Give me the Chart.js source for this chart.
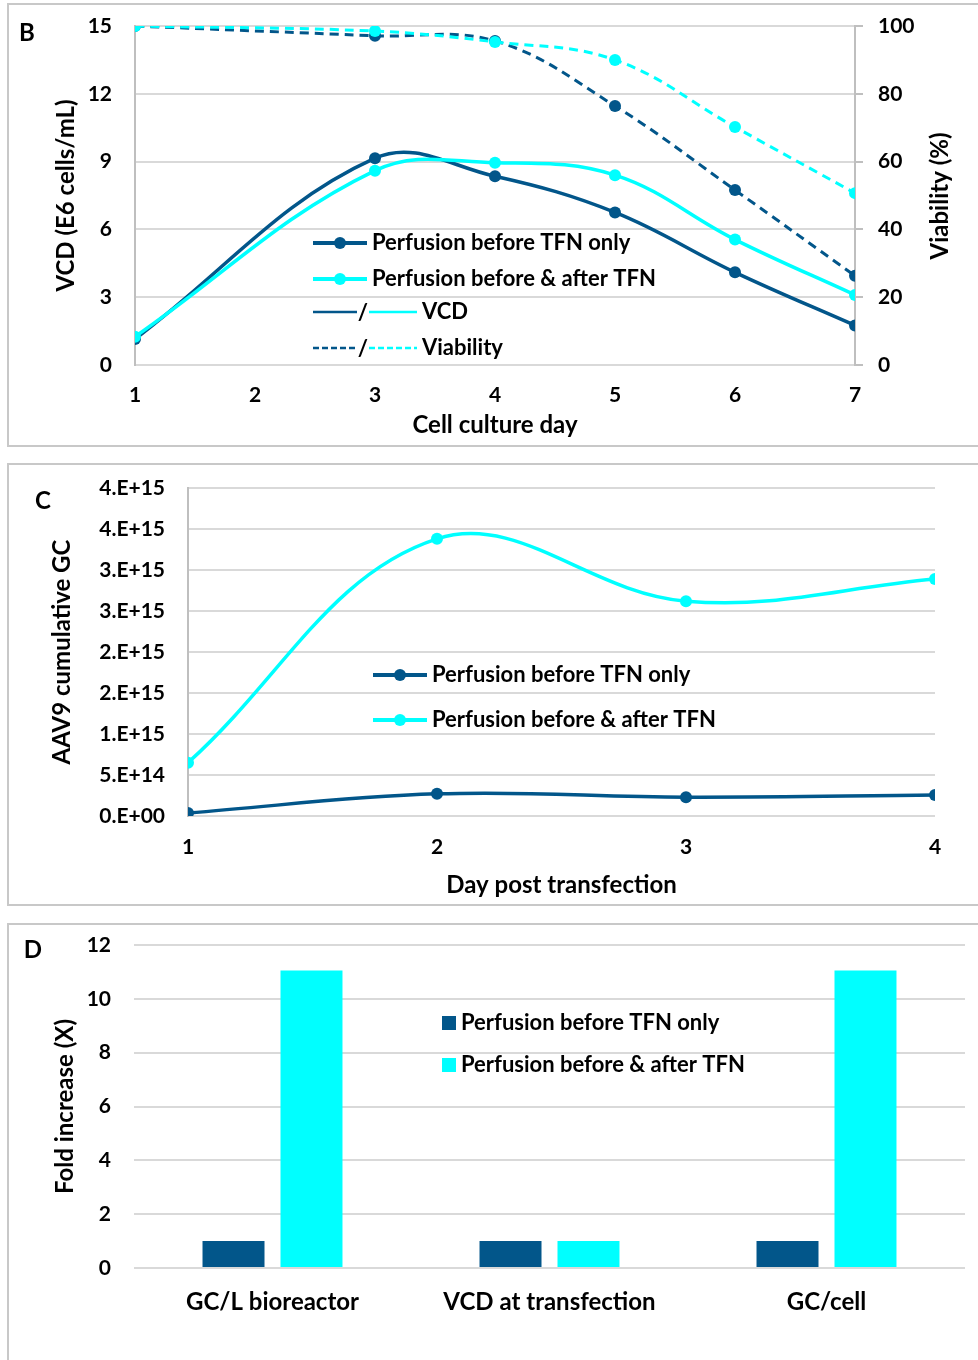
<!DOCTYPE html>
<html>
<head>
<meta charset="utf-8">
<script src="https://cdn.jsdelivr.net/npm/chart.js@4/dist/chart.umd.min.js"></script>
<style>
  body { margin: 0; background: #fff; width: 978px; height: 1360px; position: relative; overflow: hidden; font-family: Lato, "Open Sans", sans-serif; }
  .frame { position: absolute; border: 2px solid #c8c8c8; box-sizing: border-box; }
  .tag { position: absolute; font-weight: bold; font-size: 24px; color: #000; transform: translate(-50%, -50%); }
  canvas { position: absolute; left: 0; }
</style>
</head>
<body>
<div class="frame" style="left:7px;top:3px;width:990px;height:444px"></div>
<div class="frame" style="left:7px;top:463px;width:990px;height:443px"></div>
<div class="frame" style="left:7px;top:923px;width:990px;height:460px"></div>
<canvas id="chartB" width="978" height="460" style="top:-10px"></canvas>
<canvas id="chartC" width="978" height="458" style="top:452px"></canvas>
<canvas id="chartD" width="978" height="451" style="top:909px"></canvas>
<div class="tag" style="left:27px;top:31px">B</div>
<div class="tag" style="left:43px;top:499px">C</div>
<div class="tag" style="left:33px;top:948px">D</div>
<script>
// --- data ---
const dayB = [1, 3, 4, 5, 6, 7];
const vcdTfnOnly = [1.15, 9.15, 8.35, 6.75, 4.1, 1.75];
const vcdBeforeAfter = [1.25, 8.6, 8.95, 8.4, 5.55, 3.1];
const viaTfnOnly = [100, 97.1, 95.6, 76.4, 51.6, 26.3];
const viaBeforeAfter = [100, 98.5, 95.3, 90, 70.2, 50.7];

const dayC = [1, 2, 3, 4];
const gcTfnOnly = [0.037e15, 0.27e15, 0.23e15, 0.255e15];
const gcBeforeAfter = [0.65e15, 3.38e15, 2.62e15, 2.89e15];
const gcTickLabels = ['0.E+00', '5.E+14', '1.E+15', '2.E+15', '2.E+15', '3.E+15', '3.E+15', '4.E+15', '4.E+15'];

const foldCats = ['GC/L bioreactor', 'VCD at transfection', 'GC/cell'];
const foldTfnOnly = [1, 1, 1];
const foldBeforeAfter = [11.05, 1, 11.05];

const seriesNames = ['Perfusion before TFN only', 'Perfusion before & after TFN'];

// --- style ---
const DARK = '#02568A';
const CYAN = '#00FFFF';
const GRID = '#d9d9d9';
const AXIS = '#bfbfbf';
const FONT = 'Lato, "Open Sans", sans-serif';

Chart.defaults.font.family = FONT;
Chart.defaults.font.weight = 'bold';
Chart.defaults.color = '#000';
Chart.defaults.animation = false;

const pts = (xs, ys) => xs.map((x, i) => ({ x: x, y: ys[i] }));
const tickFont = { size: 21, weight: 'bold' };
const titleFont = { size: 24, weight: 'bold' };
const legendFont = 'bold 22px ' + FONT;

function lineSet(label, color, xs, ys, axis, dashed) {
    return {
        label: label,
        data: pts(xs, ys),
        yAxisID: axis,
        borderColor: color,
        backgroundColor: color,
        borderWidth: dashed ? 3 : 3.5,
        borderDash: dashed ? [9, 6] : [],
        pointRadius: 6,
        pointBorderWidth: 0,
        tension: 0.38,
        fill: false
    };
}

// legend row: line with dot + label
function legendLine(ctx, x, y, color, text) {
    ctx.save();
    ctx.strokeStyle = color;
    ctx.lineWidth = 4;
    ctx.beginPath(); ctx.moveTo(x, y); ctx.lineTo(x + 54, y); ctx.stroke();
    ctx.fillStyle = color;
    ctx.beginPath(); ctx.arc(x + 27, y, 6, 0, Math.PI * 2); ctx.fill();
    ctx.fillStyle = '#000';
    ctx.font = legendFont;
    ctx.textBaseline = 'middle';
    ctx.fillText(text, x + 59, y);
    ctx.restore();
}

// legend row: "dark/cyan" line style key
function legendStyle(ctx, x, y, dashed, text) {
    ctx.save();
    ctx.lineWidth = 2.5;
    ctx.setLineDash(dashed ? [6, 3] : []);
    ctx.strokeStyle = DARK;
    ctx.beginPath(); ctx.moveTo(x, y); ctx.lineTo(x + 44, y); ctx.stroke();
    ctx.strokeStyle = CYAN;
    ctx.beginPath(); ctx.moveTo(x + 56, y); ctx.lineTo(x + 104, y); ctx.stroke();
    ctx.fillStyle = '#000';
    ctx.font = legendFont;
    ctx.textBaseline = 'middle';
    ctx.textAlign = 'center';
    ctx.fillText('/', x + 50, y + 1);
    ctx.textAlign = 'left';
    ctx.fillText(text, x + 109, y);
    ctx.restore();
}

// --- B: VCD and viability ---
new Chart(document.getElementById('chartB'), {
    type: 'line',
    data: {
        datasets: [
            lineSet(seriesNames[1], CYAN, dayB, viaBeforeAfter, 'y1', true),
            lineSet(seriesNames[0], DARK, dayB, viaTfnOnly, 'y1', true),
            lineSet(seriesNames[1], CYAN, dayB, vcdBeforeAfter, 'y', false),
            lineSet(seriesNames[0], DARK, dayB, vcdTfnOnly, 'y', false)
        ]
    },
    options: {
        responsive: false,
        layout: { padding: { top: 36, left: 0, right: 0, bottom: 0 } },
        plugins: { legend: { display: false }, tooltip: { enabled: false } },
        scales: {
            x: {
                type: 'linear', min: 1, max: 7,
                ticks: { stepSize: 1, font: tickFont, padding: 10 },
                grid: { display: false },
                border: { display: false },
                title: { display: true, text: 'Cell culture day', font: titleFont, padding: { top: 0, bottom: 10 } },
                afterFit: s => { s.height = 85; }
            },
            y: {
                position: 'left', min: 0, max: 15,
                ticks: { stepSize: 3, font: tickFont, padding: 23 },
                grid: { color: GRID, lineWidth: 2, drawTicks: false },
                border: { display: true, color: AXIS, width: 2 },
                title: { display: true, text: 'VCD (E6 cells/mL)', font: titleFont, padding: { top: 52, bottom: 0 } },
                afterFit: s => { s.width = 135; }
            },
            y1: {
                position: 'right', min: 0, max: 100,
                ticks: { stepSize: 20, font: tickFont, padding: 15 },
                grid: { drawOnChartArea: false, drawTicks: true, tickLength: 8, color: AXIS, lineWidth: 2 },
                border: { display: true, color: AXIS, width: 2 },
                afterFit: s => { s.width = 123; }
            }
        }
    },
    plugins: [{
        id: 'legendB',
        afterDraw(chart) {
            const ctx = chart.ctx;
            const dy = 10; // canvas sits 10px above the page top
            legendLine(ctx, 313, 243 + dy, DARK, seriesNames[0]);
            legendLine(ctx, 313, 279 + dy, CYAN, seriesNames[1]);
            legendStyle(ctx, 313, 312 + dy, false, 'VCD');
            legendStyle(ctx, 313, 348 + dy, true, 'Viability');
            // right axis title reads bottom-to-top
            ctx.save();
            ctx.translate(940, 196 + dy);
            ctx.rotate(-Math.PI / 2);
            ctx.font = 'bold 24px ' + FONT;
            ctx.fillStyle = '#000';
            ctx.textAlign = 'center';
            ctx.textBaseline = 'middle';
            ctx.fillText('Viability (%)', 0, 0);
            ctx.restore();
        }
    }]
});

// --- C: cumulative GC ---
new Chart(document.getElementById('chartC'), {
    type: 'line',
    data: {
        datasets: [
            lineSet(seriesNames[1], CYAN, dayC, gcBeforeAfter, 'y', false),
            lineSet(seriesNames[0], DARK, dayC, gcTfnOnly, 'y', false)
        ]
    },
    options: {
        responsive: false,
        layout: { padding: { top: 36, left: 0, right: 43, bottom: 0 } },
        plugins: { legend: { display: false }, tooltip: { enabled: false } },
        scales: {
            x: {
                type: 'linear', min: 1, max: 4,
                ticks: { stepSize: 1, font: tickFont, padding: 11 },
                grid: { display: false },
                border: { display: false },
                title: { display: true, text: 'Day post transfection', font: titleFont, padding: { top: 0, bottom: 10 } },
                afterFit: s => { s.height = 94; }
            },
            y: {
                min: 0, max: 4e15,
                ticks: { stepSize: 5e14, font: tickFont, padding: 23, callback: (v, i) => gcTickLabels[i] },
                grid: { color: GRID, lineWidth: 2, drawTicks: false },
                border: { display: true, color: AXIS, width: 2 },
                title: { display: true, text: 'AAV9 cumulative GC', font: titleFont, padding: { top: 48, bottom: 0 } },
                afterFit: s => { s.width = 188; }
            }
        }
    },
    plugins: [{
        id: 'legendC',
        afterDraw(chart) {
            legendLine(chart.ctx, 373, 223, DARK, seriesNames[0]);
            legendLine(chart.ctx, 373, 268, CYAN, seriesNames[1]);
        }
    }]
});

// --- D: fold increase ---
new Chart(document.getElementById('chartD'), {
    type: 'bar',
    data: {
        labels: foldCats,
        datasets: [
            { label: seriesNames[0], data: foldTfnOnly, backgroundColor: DARK },
            { label: seriesNames[1], data: foldBeforeAfter, backgroundColor: CYAN }
        ]
    },
    options: {
        responsive: false,
        categoryPercentage: 0.563,
        barPercentage: 0.795,
        layout: { padding: { top: 36, left: 0, right: 13, bottom: 0 } },
        plugins: { legend: { display: false }, tooltip: { enabled: false } },
        scales: {
            x: {
                ticks: { font: titleFont, padding: 12 },
                grid: { display: false },
                border: { display: false },
                afterFit: s => { s.height = 92; }
            },
            y: {
                min: 0, max: 12,
                ticks: { stepSize: 2, font: tickFont, padding: 23 },
                grid: { color: GRID, lineWidth: 2, drawTicks: false },
                border: { display: false },
                title: { display: true, text: 'Fold increase (X)', font: titleFont, padding: { top: 51, bottom: 0 } },
                afterFit: s => { s.width = 134; }
            }
        }
    },
    plugins: [{
        id: 'legendD',
        afterDraw(chart) {
            const ctx = chart.ctx;
            [[DARK, seriesNames[0], 114], [CYAN, seriesNames[1], 156]].forEach(([c, t, y]) => {
                ctx.save();
                ctx.fillStyle = c;
                ctx.fillRect(442, y - 7, 14, 14);
                ctx.fillStyle = '#000';
                ctx.font = legendFont;
                ctx.textBaseline = 'middle';
                ctx.fillText(t, 461, y);
                ctx.restore();
            });
        }
    }]
});
</script>
</body>
</html>
